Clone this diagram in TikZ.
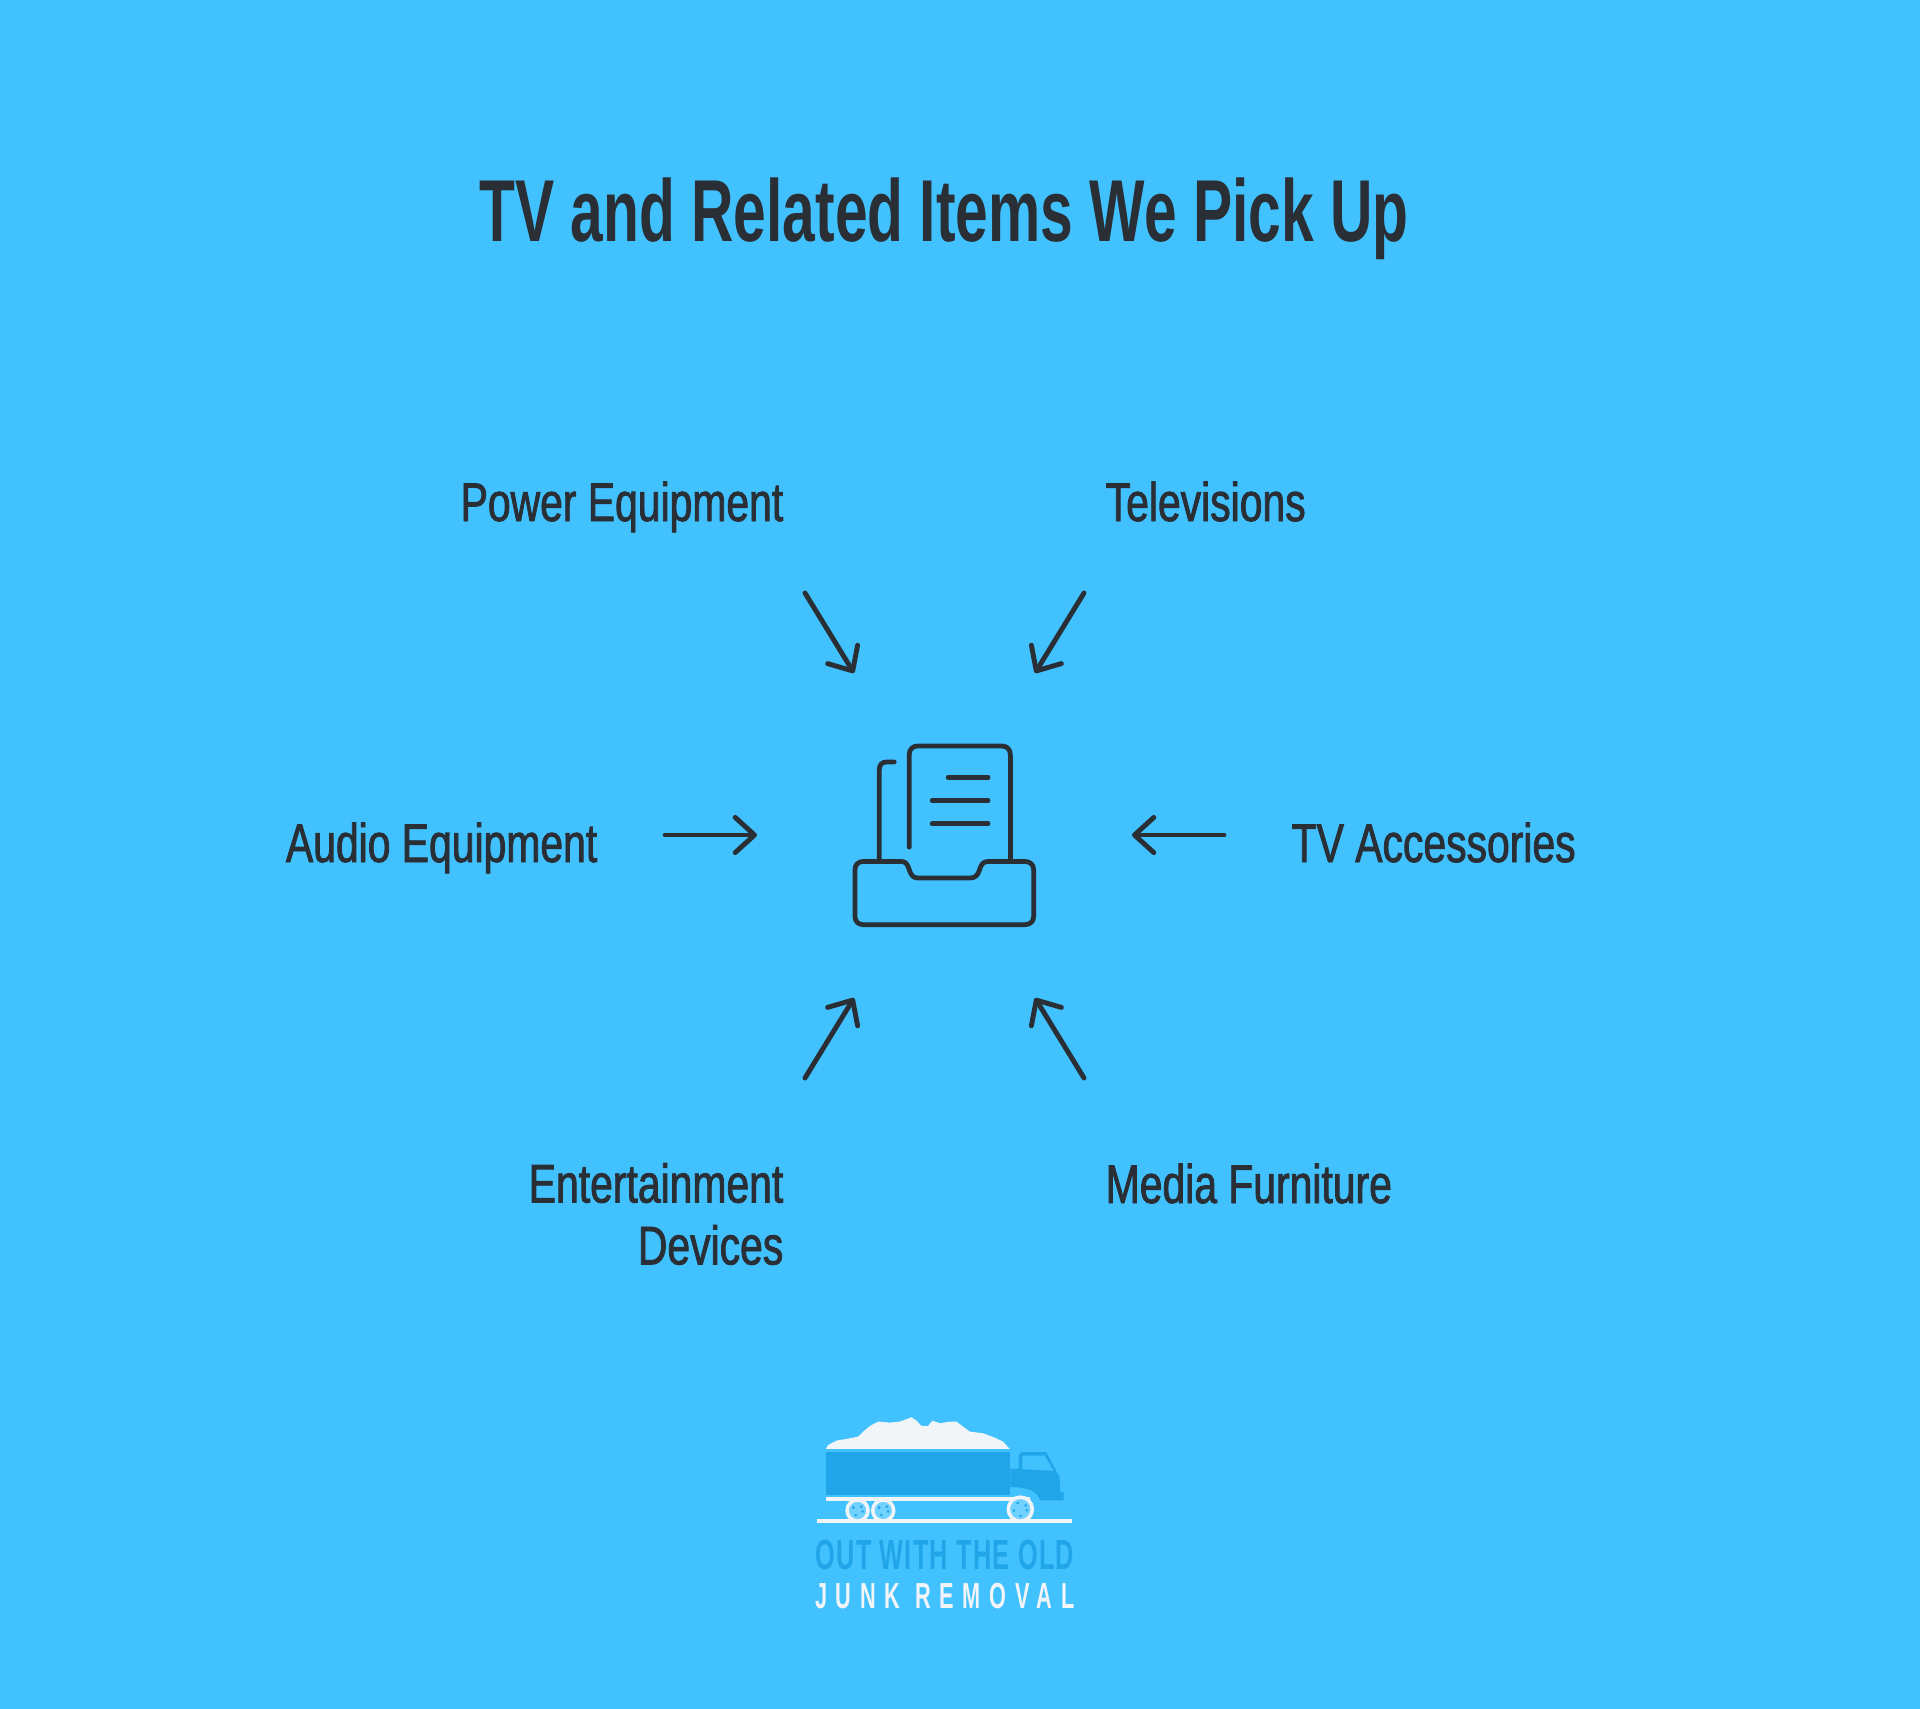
\documentclass[tikz,border=0pt]{standalone}
\usepackage{fontspec}
\usepackage{xcolor}
\usetikzlibrary{arrows.meta,positioning}
\setmainfont{Liberation Sans}
\newfontfamily\titlefont[FakeStretch=0.668]{Liberation Sans Bold}
\newfontfamily\itemfont[FakeStretch=0.75,FakeBold=1.5]{Liberation Sans}
\newfontfamily\logofont[FakeStretch=0.60,LetterSpace=3]{Liberation Sans Bold}
\newfontfamily\logowidefont[FakeStretch=0.60,LetterSpace=24]{Liberation Sans Bold}
\definecolor{skyback}{HTML}{42C1FF}
\definecolor{inkdark}{HTML}{2A2E35}
\definecolor{truckblue}{HTML}{20A6E8}
\definecolor{cloudwhite}{HTML}{F2F5F7}
\tikzset{%
	item/.style     = {font=\itemfont\fontsize{15.5}{17.6}\selectfont, text=inkdark, inner sep=0pt}, % Label
	pointer/.style  = {draw=inkdark, line width=1.4pt, line cap=round, -{Straight Barb[length=5.5pt,width=10pt,line width=1.4pt,round]}}, % Arrow
	iconline/.style = {draw=inkdark, line width=1.35pt, line cap=round, line join=round},
	wheel/.style    = {draw=cloudwhite, fill=skyback!75!white, circle, line width=1pt, inner sep=0pt},
}
\begin{document}
\begin{tikzpicture}[x=0.01cm,y=-0.01cm]
	\fill[skyback] (0,0) rectangle (1920,1709);
	\node[font=\titlefont\fontsize{25}{28}\selectfont, text=inkdark, inner sep=0pt, anchor=base] (title) at (944,241) {TV and Related Items We Pick Up};

	\node[item,anchor=base east] (power) at (784,521) {Power Equipment};
	\node[item,anchor=base west] (tv) at (1105,521) {Televisions};
	\node[item,anchor=base east] (audio) at (598,862) {Audio Equipment};
	\node[item,anchor=base west] (acc) at (1291,862) {TV Accessories};
	\node[item,anchor=east,align=right] (ent) at (784,1214) {Entertainment\\Devices};
	\node[item,anchor=base west] (media) at (1105,1203) {Media Furniture};

	% arrow ends
	\coordinate (p1) at (805,593);
	\coordinate (p2) at (854,673);
	\coordinate (t1) at (1084,593);
	\coordinate (t2) at (1035,673);
	\coordinate (a1) at (665,835);
	\coordinate (a2) at (757,835);
	\coordinate (c1) at (1224,835);
	\coordinate (c2) at (1132,835);
	\coordinate (e1) at (805,1078);
	\coordinate (e2) at (854,998);
	\coordinate (m1) at (1084,1078);
	\coordinate (m2) at (1035,998);
	\draw[pointer] (p1) -- (p2);
	\draw[pointer] (t1) -- (t2);
	\draw[pointer] (a1) -- (a2);
	\draw[pointer] (c1) -- (c2);
	\draw[pointer] (e1) -- (e2);
	\draw[pointer] (m1) -- (m2);

	% tray icon
	\begin{scope}[shift={(830,720)},x=0.00333cm,y=-0.00333cm]
		\draw[iconline] (100,425) -- (215,425) .. controls (245,425) and (230,475) .. (265,475) -- (420,475) .. controls (460,475) and (440,425) .. (475,425) -- (585,425) .. controls (602,425) and (612,435) .. (612,450) -- (612,590) .. controls (612,605) and (602,615) .. (585,615) -- (100,615) .. controls (85,615) and (75,605) .. (75,590) -- (75,450) .. controls (75,435) and (85,425) .. (100,425) -- cycle;
		\draw[iconline] (238,382) -- (238,105) .. controls (238,88) and (248,78) .. (265,78) -- (515,78) .. controls (532,78) and (542,88) .. (542,105) -- (542,425);
		\draw[iconline] (148,425) -- (148,150) .. controls (148,134) and (156,126) .. (172,126) -- (193,126);
		\draw[iconline] (355,172) -- (475,172);
		\draw[iconline] (307,242) -- (475,242);
		\draw[iconline] (307,312) -- (475,312);
	\end{scope}

	% logo
	\begin{scope}[shift={(800,1390)},x=0.00333cm,y=-0.00333cm]
		\fill[cloudwhite] (78,177) -- (85,165) -- (110,152) -- (140,147) -- (175,140) -- (190,125) -- (210,108) -- (235,95) -- (270,98) -- (300,95) -- (335,82) -- (350,92) -- (365,108) -- (385,108) -- (398,92) -- (420,100) -- (450,95) -- (470,95) -- (490,110) -- (510,125) -- (550,130) -- (585,143) -- (610,155) -- (630,177) -- cycle;
		\fill[truckblue] (78,185) rectangle (632,316);
		\fill[truckblue] (632,236) -- (657,236) -- (657,195) -- (665,187) -- (740,187) -- (780,262) -- (782,305) -- (792,308) -- (792,332) -- (722,332) .. controls (712,305) and (690,292) .. (632,292) -- cycle;
		\fill[skyback] (668,197) -- (735,197) -- (762,243) -- (668,238) -- cycle;
		\fill[cloudwhite] (78,320) rectangle (690,333);
		\draw[draw=cloudwhite, line width=1.2pt] (50,394) -- (818,394);
		\node[wheel,minimum size=0.21cm] (w1) at (173,362) {};
		\node[wheel,minimum size=0.21cm] (w2) at (250,362) {};
		\node[wheel,minimum size=0.24cm] (w3) at (662,358) {};
		\foreach \w/\r in {w1/16, w2/16, w3/20} {
			\draw[draw=truckblue, line width=0.6pt, dotted] (\w) circle[radius=\r];
		}
		\node[font=\logofont\fontsize{12}{12}\selectfont, text=truckblue, inner sep=0pt, anchor=base] (old) at (435,540) {OUT WITH THE OLD};
		\node[font=\logowidefont\fontsize{10.3}{12}\selectfont, text=cloudwhite, inner sep=0pt, anchor=base] (junk) at (435,658) {JUNK REMOVAL};
	\end{scope}
\end{tikzpicture}
\end{document}
